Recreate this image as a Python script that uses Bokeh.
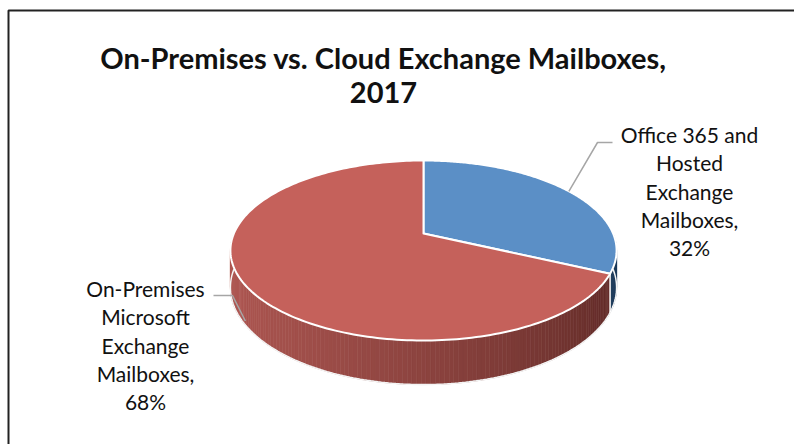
import numpy as np
from bokeh.plotting import figure
from bokeh.models import Range1d
from bokeh.embed import file_html
from bokeh.resources import INLINE
from bokeh.core.properties import value

# ---- data ----
title_lines = ["On-Premises vs. Cloud Exchange Mailboxes,", "2017"]
categories = ["Office 365 and Hosted Exchange Mailboxes",
              "On-Premises Microsoft Exchange Mailboxes"]
label_words = [["Office 365 and", "Hosted", "Exchange", "Mailboxes,"],
               ["On-Premises", "Microsoft", "Exchange", "Mailboxes,"]]
shares = [32, 68]
top_colors = ["#5B8FC6", "#C5615B"]
side_light = [(40, 75, 110), (176, 88, 83)]
side_dark = [(28, 58, 90), (92, 40, 37)]

# ---- geometry (layout) ----
W, H = 794, 444
CX, CY = 423, 233
A, B, K, T = 189.6, 86.8, 0.189, 35.7
FONT = "Lato"


def proj(alpha):
    u = np.sin(alpha)
    v = -np.cos(alpha)
    d = 1 - K * v
    return CX + A * u / d, CY + B * v / d, v, d


p = figure(width=W, height=H, x_range=Range1d(0, W), y_range=Range1d(H, 0),
           x_axis_type=None, y_axis_type=None, toolbar_location=None,
           output_backend="svg", min_border=0)
p.outline_line_color = None
p.grid.visible = False

# frame
p.line(x=[8, 8, W + 10], y=[H + 10, 10, 10], line_width=2, line_color="#222222")

total = float(sum(shares))
bounds = [0.0]
for s in shares:
    bounds.append(bounds[-1] + s / total * 2 * np.pi)

# side walls (front half only)
qx, qy, qc = [], [], []
for i in range(len(shares)):
    a0, a1 = bounds[i], bounds[i + 1]
    lo, hi = max(a0, np.pi / 2), min(a1, 3 * np.pi / 2)
    if lo >= hi:
        continue
    n = max(2, int((hi - lo) / 0.02))
    al = np.linspace(lo, hi, n + 1)
    for j in range(n):
        x0, y0, v0, d0 = proj(al[j])
        x1, y1, v1, d1 = proj(al[j + 1])
        qx.append([x0, x1, x1, x0])
        qy.append([y0, y1, y1 + T / d1, y0 + T / d0])
        u = np.sin((al[j] + al[j + 1]) / 2)
        t = (1 - u) / 2  # 1 at left (light), 0 at right (dark)
        t = t ** 0.8
        c = tuple(int(side_dark[i][k] + (side_light[i][k] - side_dark[i][k]) * t) for k in range(3))
        qc.append("#%02x%02x%02x" % c)
p.patches(xs=qx, ys=qy, fill_color=qc, line_color=qc, line_width=0.6)

# bottom rim line of side
al = np.linspace(np.pi / 2, 3 * np.pi / 2, 200)
bx, by = [], []
for a in al:
    x, y, v, d = proj(a)
    bx.append(x)
    by.append(y + T / d)
p.line(bx, by, line_color="#f4f4f4", line_width=1.5)

# white seam on the side at slice boundaries in front
for b in bounds[1:-1]:
    if np.pi / 2 < b < 3 * np.pi / 2:
        x, y, v, d = proj(b)
        p.line([x, x], [y, y + T / d], line_color="white", line_width=1.5)

# top wedges
for i in range(len(shares)):
    a = np.linspace(bounds[i], bounds[i + 1], 200)
    xs, ys = [CX], [CY]
    for ai in a:
        x, y, v, d = proj(ai)
        xs.append(x)
        ys.append(y)
    p.patch(xs, ys, fill_color=top_colors[i], line_color="white", line_width=2,
            line_join="round")

# labels and leader lines
label_cx = [689, 145]
label_top = [134, 288]
line_h = 28.3
elbows = [[(597, 142), (612, 142)], [(232, 295), (213, 295)]]
for i in range(len(shares)):
    mid = (bounds[i] + bounds[i + 1]) / 2
    x, y, v, d = proj(mid)
    if v > 0:
        y = y + 0.9 * T / d
    ex = [x] + [e[0] for e in elbows[i]]
    ey = [y] + [e[1] for e in elbows[i]]
    p.line(ex, ey, line_color="#A6A6A6", line_width=1.5)
    lines = label_words[i] + ["%d%%" % shares[i]]
    p.text(x=[label_cx[i]] * len(lines),
           y=[label_top[i] + line_h * k for k in range(len(lines))],
           text=lines, text_font=value(FONT), text_font_size="21px",
           text_color="#111111", text_align="center", text_baseline="middle")

# title
p.text(x=[383, 383], y=[57, 92], text=title_lines, text_font=value(FONT),
       text_font_size="29px", text_font_style="bold", text_color="#111111",
       text_align="center", text_baseline="middle")

open("out.html", "w").write(file_html(p, INLINE))
